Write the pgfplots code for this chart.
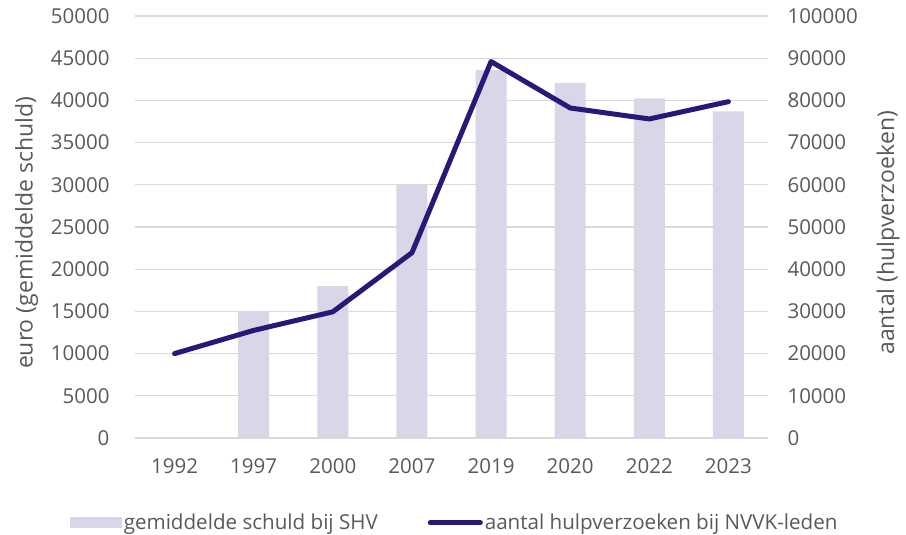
\documentclass[border=0pt]{standalone}
\usepackage{pgfplots}
\pgfplotsset{compat=1.18}
\usepackage{fontspec}
\setmainfont{Open Sans}
\definecolor{barlav}{HTML}{D9D6E8}
\definecolor{linenavy}{HTML}{261A78}
\definecolor{txtgray}{HTML}{595959}
\definecolor{gridgray}{HTML}{D9D9D9}

\pgfplotsset{
  base/.style={
    scale only axis, width=633pt, height=422pt,
    at={(135pt,97pt)}, anchor=south west,
    xmin=-0.5, xmax=7.5,
    axis line style={draw=none}, tick style={draw=none},
    ticklabel style={font=\fontsize{20.5}{24}\selectfont, text=txtgray},
    label style={font=\fontsize{23}{27}\selectfont, text=txtgray},
    scaled y ticks=false,
    /pgf/number format/assume math mode=true,
    /pgf/number format/fixed,
    /pgf/number format/1000 sep={},
  }
}

\begin{document}
\begin{tikzpicture}[x=1pt,y=1pt]
\useasboundingbox (0,0) rectangle (906,535);
\begin{axis}[base,
  ymin=0, ymax=50000, ytick distance=5000,
  ymajorgrids, grid style={gridgray, line width=1.3pt},
  xtick={0,...,7},
  xticklabels={1992,1997,2000,2007,2019,2020,2022,2023},
  xticklabel style={yshift=-17pt},
  yticklabel style={xshift=-22pt},
  ylabel={euro (gemiddelde schuld)},
  ylabel style={at={(axis description cs:-0.171,0.486)}, anchor=center},
  legend style={at={(axis description cs:0.505,-0.201)}, anchor=center,
    draw=none, fill=none, legend columns=2,
    font=\fontsize{20.6}{24}\selectfont, text=txtgray,
    /tikz/every even column/.append style={column sep=48pt},
    legend cell align=left},
]
\addplot[fill=barlav, draw=none, ybar, bar width=31pt,
  legend image code/.code={\fill[barlav] (0pt,-5.5pt) rectangle (52pt,5.5pt);}]
  coordinates {(1,15000) (2,18000) (3,30000) (4,43600) (5,42050) (6,40250) (7,38700)};
\addlegendentry{gemiddelde schuld bij SHV}
\addlegendimage{legend image code/.code={\draw[linenavy, line width=5pt, line cap=round] (2pt,0pt)--(52pt,0pt);}}
\addlegendentry{aantal hulpverzoeken bij NVVK-leden}
\end{axis}
\begin{axis}[base,
  axis y line*=right, axis x line=none,
  xtick=\empty,
  ymin=0, ymax=100000, ytick distance=10000,
  yticklabel style={xshift=16pt},
  ylabel={aantal (hulpverzoeken)},
  ylabel style={at={(axis description cs:1.190,0.486)}, anchor=center},
]
\addplot[linenavy, line width=5pt, line join=round, line cap=round, mark=none]
  coordinates {(0,20000) (1,25500) (2,29900) (3,43900) (4,89200) (5,78200) (6,75600) (7,79700)};
\end{axis}
\end{tikzpicture}
\end{document}
